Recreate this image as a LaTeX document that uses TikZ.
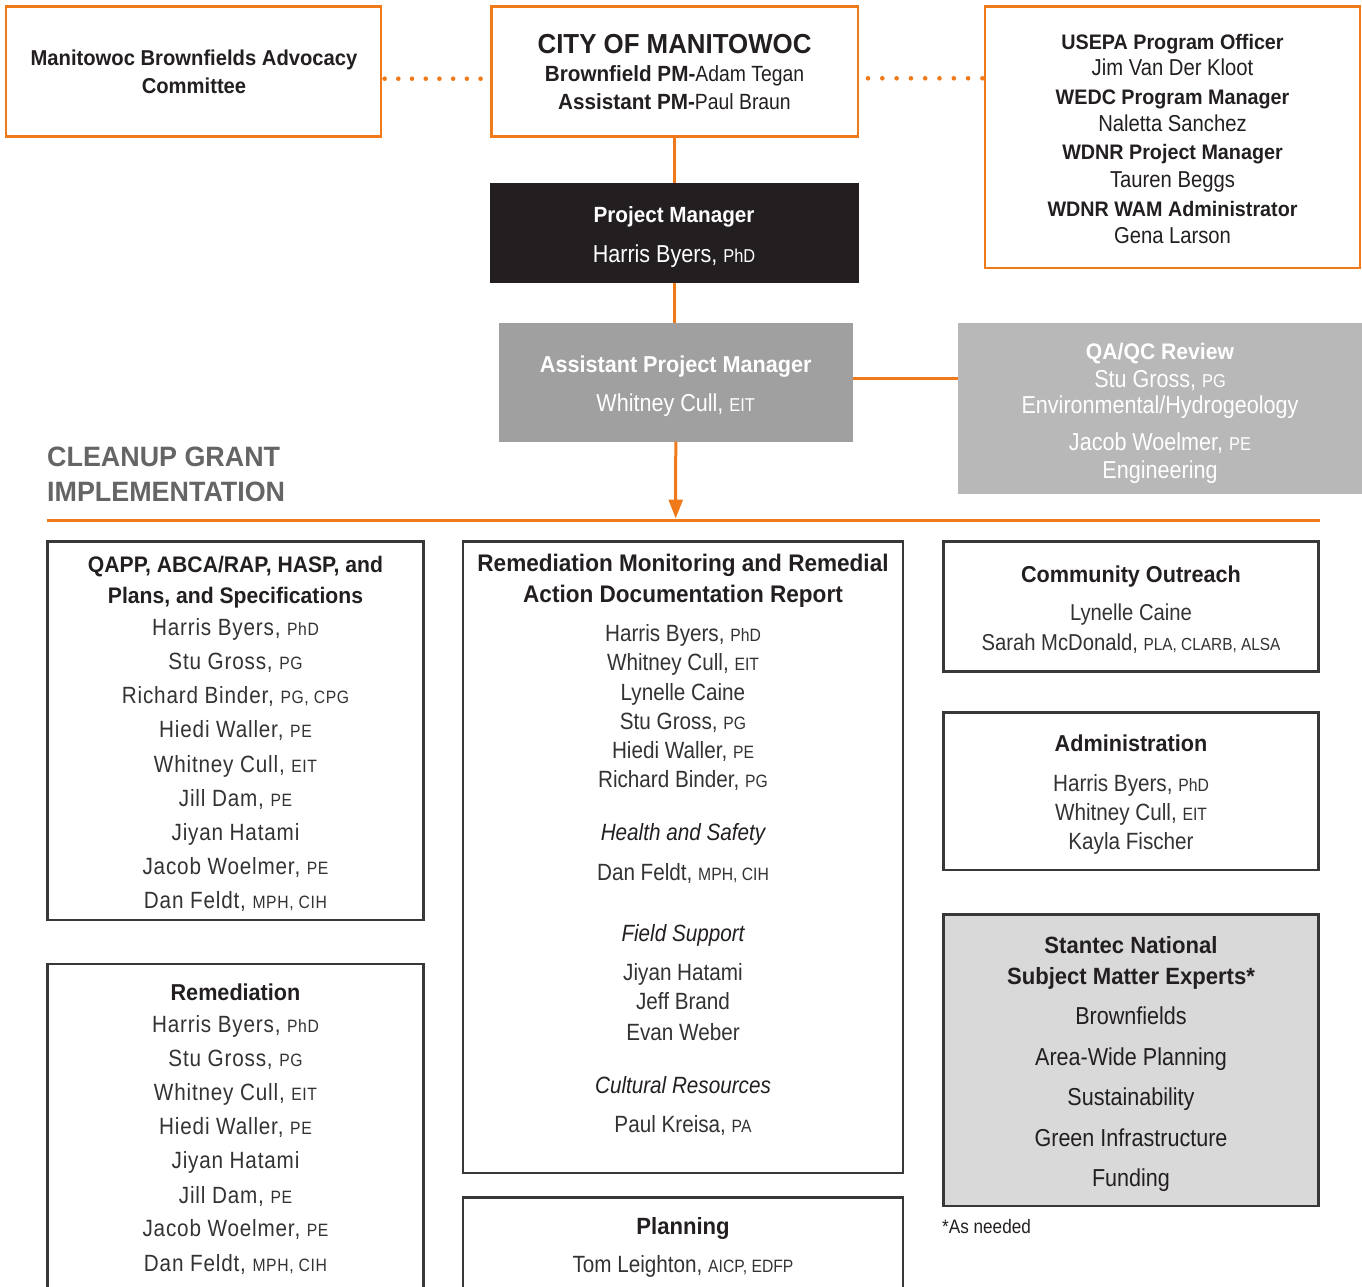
\documentclass[tikz,border=0pt]{standalone}
\usepackage{fontspec}
\usepackage{graphicx}
\setmainfont{Liberation Sans}
\newfontfamily\rgf{Liberation Sans}[FakeStretch=0.88]
\newfontfamily\bdf{Liberation Sans}[FakeStretch=0.94]
\newfontfamily\spf{Liberation Sans}[FakeStretch=0.88,LetterSpace=3.5]
\newfontfamily\hdf{Liberation Sans}[FakeStretch=0.96]
\usetikzlibrary{arrows.meta}

\definecolor{org}{HTML}{F07A1A}
\definecolor{ink}{HTML}{231F20}
\definecolor{nm}{HTML}{333333}
\definecolor{dk}{HTML}{383838}
\definecolor{apmgray}{HTML}{A0A0A0}
\definecolor{qagray}{HTML}{B8B8B8}
\definecolor{stgray}{HTML}{D9D9D9}
\definecolor{hdgray}{HTML}{656565}

\newcommand\fs[1]{\fontsize{#1}{#1}\selectfont}
\newcommand\cred[1]{\scalebox{0.76}{#1}}
\newcommand\bd[1]{{\bdf\bfseries #1}}

% #1 box name, #2 style, #3 x1, #4 y1, #5 x2, #6 y2
\newcommand\mkbox[6]{%
  \node[#2, minimum width={#5-#3}, minimum height={#6-#4}] (#1) at ({(#3+#5)/2},{(#4+#6)/2}) {};}
% #1 x, #2 name prefix, #3 style, #4 list y/text
\newcommand\lines[4]{%
  \foreach \yy/\txt [count=\i] in {#4} {\node[#3] (#2\i) at (#1,\yy) {\txt};}}

\begin{document}
\begin{tikzpicture}[x=1pt,y=-1pt,
  obox/.style={draw=org,line width=2.2pt,fill=white,inner sep=0pt,outer sep=0pt},
  dbox/.style={draw=dk,line width=2.6pt,fill=white,inner sep=0pt,outer sep=0pt},
  fbox/.style={draw=none,inner sep=0pt,outer sep=0pt},
  oline/.style={draw=org,line width=3pt},
  dots/.style={draw=org,line width=4.6pt,line cap=round,dash pattern=on 0pt off 14.3pt},
  ttl/.style={anchor=base,inner sep=0pt,text=ink,font=\bdf\bfseries\fs{23}},
  nme/.style={anchor=base,inner sep=0pt,text=nm,font=\rgf\fs{23.5}},
  spn/.style={anchor=base,inner sep=0pt,text=nm,font=\spf\fs{23.5}},
  itl/.style={anchor=base,inner sep=0pt,text=ink,font=\rgf\itshape\fs{23.5}},
]
\useasboundingbox (0,0) rectangle (1362,1287);
\clip (0,0) rectangle (1362,1287);

% ---------------- top boxes ----------------
\mkbox{adv}{obox}{6}{6.5}{381}{136.5}
\mkbox{city}{obox}{491.5}{6.5}{858.3}{136.5}
\mkbox{usepa}{obox}{985}{6.5}{1360}{267.7}
\mkbox{pm}{fbox,fill=ink}{490}{183}{859}{282.7}
\mkbox{apm}{fbox,fill=apmgray}{498.6}{323.3}{852.9}{441.7}
\mkbox{qaqc}{fbox,fill=qagray}{958}{323}{1364}{494}

% connectors
\draw[oline] (city.south) -- (city.south |- pm.north);
\draw[oline] (pm.south) -- (pm.south |- apm.north);
\draw[oline] ([yshift=3.6pt]apm.east) -- ([yshift=3.6pt]apm.east -| qaqc.west);
\coordinate (arrowend) at (675.7,518.5);
\draw[oline,-{Triangle[width=14pt,length=19pt]}] (apm.south) -- (arrowend);
\draw[dots,dash pattern=on 0pt off 13.71pt] ([xshift=3.6pt,yshift=-7.2pt]adv.east) -- ([xshift=-10.9pt,yshift=-7.2pt]city.west);
\draw[dots] ([xshift=9.7pt,yshift=-6.8pt]city.east) -- ([xshift=9.7pt,yshift=-6.8pt]city.east -| usepa.west);

% texts top
\lines{194}{advT}{ttl,font=\bdf\bfseries\fs{21.5}}{66/{Manitowoc Brownfields Advocacy},94/{Committee}}
\node[ttl,font=\bdf\bfseries\fs{27.5}] (cityT) at (674.5,54) {CITY OF MANITOWOC};
\lines{674.5}{cityL}{nme,text=ink,font=\rgf\fs{22}}{81.7/{\bd{Brownfield PM-}Adam Tegan},109.3/{\bd{Assistant PM-}Paul Braun}}
\lines{1172.5}{usB}{ttl,font=\bdf\bfseries\fs{21}}{49.3/{USEPA Program Officer},104.3/{WEDC Program Manager},160/{WDNR Project Manager},216/{WDNR WAM Administrator}}
\lines{1172.5}{usN}{nme,text=ink,font=\rgf\fs{23}}{76/{Jim Van Der Kloot},131.7/{Naletta Sanchez},187.7/{Tauren Beggs},243.3/{Gena Larson}}

\node[ttl,text=white,font=\bdf\bfseries\fs{22}] (pmT) at (674,222.7) {Project Manager};
\node[nme,text=white,font=\rgf\fs{24.5}] (pmN) at (674,262.3) {Harris Byers, \cred{PhD}};
\node[ttl,text=white,font=\bdf\bfseries\fs{23}] (apmT) at (675.7,372.3) {Assistant Project Manager};
\node[nme,text=white,font=\rgf\fs{24.5}] (apmN) at (675.7,411) {Whitney Cull, \cred{EIT}};
\node[ttl,text=white,font=\bdf\bfseries\fs{22.5}] (qaT) at (1160,359) {QA/QC Review};
\lines{1160}{qaN}{nme,text=white,font=\rgf\fs{24.5}}{387.3/{Stu Gross, \cred{PG}},413.3/{Environmental/Hydrogeology},450.7/{Jacob Woelmer, \cred{PE}},478.3/{Engineering}}

% ---------------- section header ----------------
\node[anchor=base west,inner sep=0pt,text=hdgray,font=\hdf\bfseries\fs{28}] (hd1) at (47,466.5) {CLEANUP GRANT};
\node[anchor=base west,inner sep=0pt,text=hdgray,font=\hdf\bfseries\fs{28}] (hd2) at (47,501) {IMPLEMENTATION};
\coordinate (hl) at (47,520);
\coordinate (hr) at (1320,520);
\draw[oline] (hl) -- (hr);

% ---------------- lower boxes ----------------
\mkbox{qapp}{dbox}{47.7}{541.7}{423.3}{920}
\mkbox{remmon}{dbox}{463}{541.5}{903}{1173}
\mkbox{comm}{dbox}{943.3}{541.7}{1318.7}{671.7}
\mkbox{admin}{dbox}{943.3}{712.7}{1318.7}{870}
\mkbox{stan}{dbox,fill=stgray}{943.3}{914.3}{1318.7}{1206}
\mkbox{remed}{dbox}{47.7}{964}{423.3}{1320}
\mkbox{plan}{dbox}{463}{1197.3}{903}{1320}

% QAPP
\lines{235.5}{qaT}{ttl,font=\bdf\bfseries\fs{22.5}}{572.7/{QAPP, ABCA/RAP, HASP, and},603/{Plans, and Specifications}}
\lines{235.5}{qaN}{spn}{635/{Harris Byers, \cred{PhD}},669.3/{Stu Gross, \cred{PG}},703.3/{Richard Binder, \cred{PG, CPG}},737.3/{Hiedi Waller, \cred{PE}},772.3/{Whitney Cull, \cred{EIT}},806/{Jill Dam, \cred{PE}},840/{Jiyan Hatami},874.3/{Jacob Woelmer, \cred{PE}},908/{Dan Feldt, \cred{MPH, CIH}}}

% Remediation monitoring
\lines{683}{rmT}{ttl,font=\bdf\bfseries\fs{24}}{571.7/{Remediation Monitoring and Remedial},602.7/{Action Documentation Report}}
\lines{683}{rmN}{nme}{641.7/{Harris Byers, \cred{PhD}},670/{Whitney Cull, \cred{EIT}},700/{Lynelle Caine},729/{Stu Gross, \cred{PG}},758/{Hiedi Waller, \cred{PE}},787/{Richard Binder, \cred{PG}},880/{Dan Feldt, \cred{MPH, CIH}},980/{Jiyan Hatami},1009/{Jeff Brand},1040.7/{Evan Weber},1132.7/{Paul Kreisa, \cred{PA}}}
\lines{683}{rmI}{itl}{840/{Health and Safety},941/{Field Support},1093/{Cultural Resources}}

% Community outreach
\node[ttl] (coT) at (1131,582.7) {Community Outreach};
\lines{1131}{coN}{nme,font=\rgf\fs{23}}{620.7/{Lynelle Caine},650/{Sarah McDonald, \cred{PLA, CLARB, ALSA}}}

% Administration
\node[ttl] (adT) at (1131,751.7) {Administration};
\lines{1131}{adN}{nme}{791.7/{Harris Byers, \cred{PhD}},820.7/{Whitney Cull, \cred{EIT}},849.3/{Kayla Fischer}}

% Stantec
\lines{1131}{stT}{ttl,font=\bdf\bfseries\fs{23.5}}{953.3/{Stantec National},984/{Subject Matter Experts*}}
\lines{1131}{stN}{nme,text=ink,font=\rgf\fs{24.5}}{1024/{Brownfields},1065/{Area-Wide Planning},1105/{Sustainability},1146/{Green Infrastructure},1186/{Funding}}
\node[anchor=base west,inner sep=0pt,text=ink,font=\rgf\fs{19.5}] (asn) at (942,1233.3) {*As needed};

% Remediation
\node[ttl] (reT) at (235.5,1000.7) {Remediation};
\lines{235.5}{reN}{spn}{1032.7/{Harris Byers, \cred{PhD}},1066.7/{Stu Gross, \cred{PG}},1100.7/{Whitney Cull, \cred{EIT}},1134/{Hiedi Waller, \cred{PE}},1168/{Jiyan Hatami},1203/{Jill Dam, \cred{PE}},1236.7/{Jacob Woelmer, \cred{PE}},1271.7/{Dan Feldt, \cred{MPH, CIH}}}

% Planning
\node[ttl,font=\bdf\bfseries\fs{23.5}] (plT) at (683,1234) {Planning};
\node[nme] (plN) at (683,1272.7) {Tom Leighton, \cred{AICP, EDFP}};
\end{tikzpicture}
\end{document}
